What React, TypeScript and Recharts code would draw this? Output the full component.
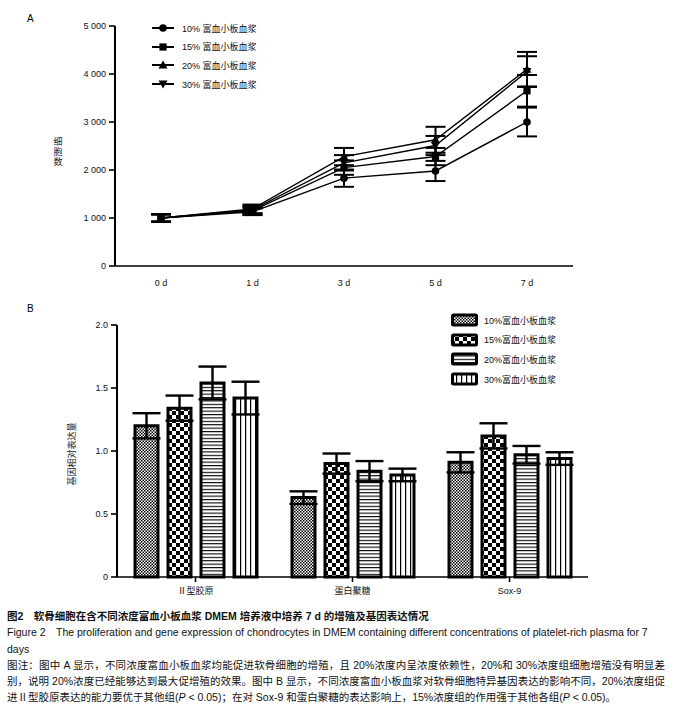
import React from "react";
import {
  LineChart, Line, BarChart, Bar, XAxis, YAxis, ErrorBar,
} from "recharts";

// ---------- Panel A data ----------
const days = ["0 d", "1 d", "3 d", "5 d", "7 d"];
const seriesNames = ["10%富血小板血浆", "15%富血小板血浆", "20%富血小板血浆", "30%富血小板血浆"];
const legendANames = ["10% 富血小板血浆", "15% 富血小板血浆", "20% 富血小板血浆", "30% 富血小板血浆"];
const cells10 = [1000, 1130, 1830, 1980, 3000];
const err10 = [80, 70, 180, 210, 300];
const cells15 = [1000, 1150, 2050, 2280, 3650];
const err15 = [70, 80, 150, 180, 330];
const cells20 = [1000, 1190, 2280, 2630, 4100];
const err20 = [80, 90, 180, 270, 360];
const cells30 = [1000, 1170, 2150, 2510, 4050];
const err30 = [80, 80, 160, 200, 320];
const yTicksA = [0, 1000, 2000, 3000, 4000, 5000];

// ---------- Panel B data ----------
const genes = ["Ⅱ型胶原", "蛋白聚糖", "Sox-9"];
const expr10 = [1.2, 0.63, 0.91];
const eErr10 = [0.1, 0.05, 0.08];
const expr15 = [1.34, 0.9, 1.12];
const eErr15 = [0.1, 0.08, 0.1];
const expr20 = [1.54, 0.84, 0.97];
const eErr20 = [0.13, 0.08, 0.07];
const expr30 = [1.42, 0.81, 0.94];
const eErr30 = [0.13, 0.05, 0.05];
const yTicksB = [0, 0.5, 1.0, 1.5, 2.0];

const dataA = days.map((d, i) => ({
  day: d,
  v10: cells10[i], e10: err10[i],
  v15: cells15[i], e15: err15[i],
  v20: cells20[i], e20: err20[i],
  v30: cells30[i], e30: err30[i],
}));

const dataB = genes.map((g, i) => ({
  gene: g,
  b10: expr10[i], be10: eErr10[i],
  b15: expr15[i], be15: eErr15[i],
  b20: expr20[i], be20: eErr20[i],
  b30: expr30[i], be30: eErr30[i],
}));

const FONT = '"Liberation Sans", Arial, "Noto Sans CJK SC", sans-serif';
const shapes = ["circle", "square", "triangle", "down"];
const patternIds = ["p10", "p15", "p20", "p30"];

function Marker({ cx, cy, shape }: { cx: number; cy: number; shape: string }) {
  if (cx == null || cy == null) return null;
  if (shape === "circle") return <circle cx={cx} cy={cy} r={3.8} fill="#000" />;
  if (shape === "square") return <rect x={cx - 3.6} y={cy - 3.6} width={7.2} height={7.2} fill="#000" />;
  if (shape === "triangle")
    return <polygon points={`${cx},${cy - 4.5} ${cx - 4.5},${cy + 3.5} ${cx + 4.5},${cy + 3.5}`} fill="#000" />;
  return <polygon points={`${cx},${cy + 4.5} ${cx - 4.5},${cy - 3.5} ${cx + 4.5},${cy - 3.5}`} fill="#000" />;
}

const makeDot = (shape: string) => (props: any) => (
  <Marker key={`${shape}-${props.index}`} cx={props.cx} cy={props.cy} shape={shape} />
);

const fmtA = (v: number) => (v === 0 ? "0" : `${Math.floor(v / 1000)} ${String(v % 1000).padStart(3, "0")}`);
const fmtB = (v: number) => (v === 0 ? "0" : v.toFixed(1));

const tickStyle = { fontSize: 9, fill: "#111", fontFamily: FONT };

export default function App() {
  const lineKeys = ["v10", "v15", "v20", "v30"];
  const errKeys = ["e10", "e15", "e20", "e30"];
  const barKeys = ["b10", "b15", "b20", "b30"];
  const barErrKeys = ["be10", "be15", "be20", "be30"];
  return (
    <div style={{ position: "absolute", left: 0, top: 0, width: 688, height: 717, background: "#fff", fontFamily: FONT }}>
      <svg width={0} height={0} style={{ position: "absolute" }}>
        <defs>
          <pattern id="p10" patternUnits="userSpaceOnUse" width={3} height={3}>
            <rect width={3} height={3} fill="#fff" />
            <rect width={1.5} height={1.5} fill="#000" />
            <rect x={1.5} y={1.5} width={1.5} height={1.5} fill="#000" />
          </pattern>
          <pattern id="p15" patternUnits="userSpaceOnUse" width={8} height={8}>
            <rect width={8} height={8} fill="#fff" />
            <rect width={4} height={4} fill="#000" />
            <rect x={4} y={4} width={4} height={4} fill="#000" />
          </pattern>
          <pattern id="p20" patternUnits="userSpaceOnUse" width={4} height={3.4}>
            <rect width={4} height={3.4} fill="#fff" />
            <rect y={0} width={4} height={1.1} fill="#000" />
          </pattern>
          <pattern id="p30" patternUnits="userSpaceOnUse" width={5} height={4}>
            <rect width={5} height={4} fill="#fff" />
            <rect x={0} width={1.2} height={4} fill="#000" />
          </pattern>
        </defs>
      </svg>

      {/* Panel labels */}
      <div style={{ position: "absolute", left: 27, top: 13, fontSize: 10 }}>A</div>
      <div style={{ position: "absolute", left: 27, top: 303, fontSize: 10 }}>B</div>

      {/* Panel A y label (stacked) */}
      <div style={{ position: "absolute", left: 52, top: 137, width: 12, fontSize: 9, lineHeight: "10px", textAlign: "center", color: "#222" }}>
        <div>细</div><div>胞</div><div>数</div>
      </div>

      {/* Panel A chart */}
      <div style={{ position: "absolute", left: 0, top: 0 }}>
        <LineChart width={688} height={300} data={dataA} margin={{ top: 26, right: 115, bottom: 10, left: 55 }}>
          <XAxis
            dataKey="day"
            padding={{ left: 46, right: 46 }}
            tickLine={false}
            axisLine={{ stroke: "#000", strokeWidth: 1.6 }}
            tick={tickStyle}
            tickMargin={8}
            height={24}
          />
          <YAxis
            domain={[0, 5000]}
            ticks={yTicksA}
            tickFormatter={fmtA}
            width={60}
            axisLine={{ stroke: "#000", strokeWidth: 2 }}
            tickLine={{ stroke: "#000", strokeWidth: 1.6 }}
            tickSize={6}
            tickMargin={3}
            tick={tickStyle}
          />
          {lineKeys.map((k, i) => (
            <Line
              key={k}
              dataKey={k}
              name={seriesNames[i]}
              stroke="#000"
              strokeWidth={1.4}
              dot={makeDot(shapes[i])}
              activeDot={false}
              isAnimationActive={false}
            >
              <ErrorBar dataKey={errKeys[i]} width={10} stroke="#000" strokeWidth={2} direction="y" />
            </Line>
          ))}
        </LineChart>
      </div>

      {/* Legend A */}
      {legendANames.map((n, i) => (
        <div key={n} style={{ position: "absolute", left: 150, top: 22 + i * 18.7, height: 12, display: "flex", alignItems: "center" }}>
          <svg width={26} height={12}>
            <line x1={2} y1={6} x2={24} y2={6} stroke="#000" strokeWidth={2} />
            <Marker cx={13} cy={6} shape={shapes[i]} />
          </svg>
          <span style={{ marginLeft: 6, fontSize: 9, color: "#111", whiteSpace: "nowrap" }}>{n}</span>
        </div>
      ))}

      {/* Panel B y label */}
      <div
        style={{
          position: "absolute", left: 71, top: 454, fontSize: 9, color: "#222", whiteSpace: "nowrap",
          transform: "translate(-50%, -50%) rotate(-90deg)",
        }}
      >
        基因相对表达量
      </div>

      {/* Panel B chart */}
      <div style={{ position: "absolute", left: 0, top: 295 }}>
        <BarChart
          width={688}
          height={320}
          data={dataB}
          margin={{ top: 30, right: 100, bottom: 10, left: 57 }}
          barCategoryGap={18}
          barGap={10}
        >
          <XAxis
            dataKey="gene"
            axisLine={{ stroke: "#000", strokeWidth: 1.6 }}
            tickLine={{ stroke: "#000", strokeWidth: 1.6 }}
            tickSize={5}
            tickMargin={6}
            tick={tickStyle}
            height={28}
          />
          <YAxis
            domain={[0, 2]}
            ticks={yTicksB}
            tickFormatter={fmtB}
            width={60}
            axisLine={{ stroke: "#000", strokeWidth: 2 }}
            tickLine={{ stroke: "#000", strokeWidth: 1.6 }}
            tickSize={6}
            tickMargin={3}
            tick={tickStyle}
          />
          {barKeys.map((k, i) => (
            <Bar
              key={k}
              dataKey={k}
              name={seriesNames[i]}
              fill={`url(#${patternIds[i]})`}
              stroke="#000"
              strokeWidth={3}
              isAnimationActive={false}
            >
              <ErrorBar dataKey={barErrKeys[i]} width={14} stroke="#000" strokeWidth={2.4} direction="y" />
            </Bar>
          ))}
        </BarChart>
      </div>

      {/* Legend B */}
      {seriesNames.map((n, i) => (
        <div key={n} style={{ position: "absolute", left: 451, top: 313 + i * 19.7, height: 14, display: "flex", alignItems: "center" }}>
          <svg width={27} height={14}>
            <rect x={1.5} y={2} width={24} height={10} fill={`url(#${patternIds[i]})`} stroke="#000" strokeWidth={3} rx={1} />
          </svg>
          <span style={{ marginLeft: 6, fontSize: 9, color: "#111", whiteSpace: "nowrap" }}>{n}</span>
        </div>
      ))}

      {/* Caption */}
      <div style={{ position: "absolute", left: 7, top: 608, width: 665, fontSize: 10.5, lineHeight: "16.3px", color: "#111" }}>
        <div style={{ whiteSpace: "nowrap", fontWeight: 700 }}>图2　软骨细胞在含不同浓度富血小板血浆 DMEM 培养液中培养 7 d 的增殖及基因表达情况</div>
        <div style={{ whiteSpace: "nowrap" }}>Figure 2　The proliferation and gene expression of chondrocytes in DMEM containing different concentrations of platelet-rich plasma for 7</div>
        <div style={{ whiteSpace: "nowrap" }}>days</div>
        <div style={{ whiteSpace: "nowrap", width: 658, textAlign: "justify", textAlignLast: "justify" }}>图注：图中 A 显示，不同浓度富血小板血浆均能促进软骨细胞的增殖，且 20%浓度内呈浓度依赖性，20%和 30%浓度组细胞增殖没有明显差</div>
        <div style={{ whiteSpace: "nowrap", width: 658, textAlign: "justify", textAlignLast: "justify" }}>别，说明 20%浓度已经能够达到最大促增殖的效果。图中 B 显示，不同浓度富血小板血浆对软骨细胞特异基因表达的影响不同，20%浓度组促</div>
        <div style={{ whiteSpace: "nowrap" }}>进Ⅱ型胶原表达的能力要优于其他组(<i>P</i> &lt; 0.05)；在对 Sox-9 和蛋白聚糖的表达影响上，15%浓度组的作用强于其他各组(<i>P</i> &lt; 0.05)。</div>
      </div>
    </div>
  );
}
